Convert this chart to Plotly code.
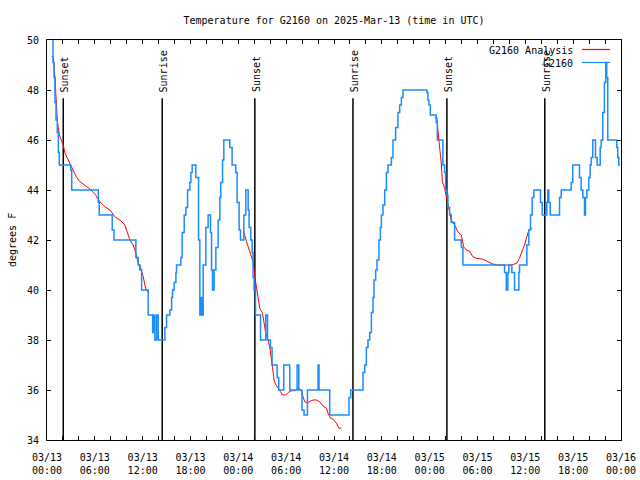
import plotly.graph_objects as go

# ---------------- data (hours since 2025-03-13 00:00 UTC) ----------------
obs_hours = [0.63, 0.75, 0.88, 1.00, 1.13, 1.29, 1.42, 1.54, 2.97, 3.10,
             6.43, 6.55, 8.18, 8.40, 11.15, 11.44, 11.65, 11.87, 12.69, 13.25,
             13.41, 13.53, 13.75, 13.95, 14.79, 15.00, 15.41, 15.63, 15.75, 15.95,
             16.17, 16.25, 16.79, 16.95, 17.21, 17.42, 17.63, 17.92, 18.05, 18.21,
             18.67, 19.01, 19.17, 19.30, 19.42, 19.59, 19.92, 20.21, 20.51, 20.64,
             20.76, 20.96, 21.18, 21.47, 21.68, 21.80, 22.02, 22.18, 22.93, 23.22,
             23.68, 23.85, 24.10, 24.27, 24.69, 24.94, 25.23, 25.35, 25.56, 25.73,
             25.85, 25.98, 26.15, 26.78, 27.44, 27.66, 28.03, 28.23, 28.86, 29.07,
             29.70, 30.45, 31.37, 31.58, 31.99, 32.24, 32.67, 34.00, 34.12, 35.46,
             37.88, 38.10, 39.64, 39.85, 40.06, 40.26, 40.48, 40.69, 40.89, 41.02,
             41.23, 41.39, 41.64, 41.82, 41.94, 42.14, 42.36, 42.57, 42.77, 43.20,
             43.40, 43.73, 44.02, 44.24, 44.45, 44.65, 47.66, 47.78, 47.91, 48.08,
             48.83, 48.96, 49.66, 49.87, 50.00, 50.16, 50.29, 50.50, 50.71, 51.13,
             51.97, 52.17, 57.39, 57.61, 57.81, 57.93, 58.31, 58.65, 59.19, 59.27,
             60.19, 60.44, 60.65, 60.86, 61.07, 61.90, 62.12, 62.69, 62.82, 62.94,
             63.12, 64.29, 64.50, 65.75, 65.95, 66.79, 67.00, 67.21, 67.42, 67.54,
             67.71, 67.96, 68.13, 68.26, 68.46, 68.80, 69.01, 69.39, 69.51, 69.71,
             69.92, 70.09, 70.21, 70.34, 71.47, 71.59, 71.72, 71.87]
obs_temp = [50.2, 49.1, 48.5, 47.5, 46.8, 46.3, 45.5, 45.0, 44.8, 44.0,
            43.5, 43.0, 42.4, 42.0, 41.3, 41.0, 40.8, 40.0, 39.0, 38.3,
            39.0, 38.0, 39.0, 38.0, 38.5, 39.0, 39.2, 39.7, 40.0, 40.3,
            40.7, 41.0, 41.3, 42.3, 43.0, 43.3, 44.0, 44.3, 44.7, 45.0,
            44.5, 42.0, 39.0, 39.7, 39.0, 41.0, 42.5, 43.0, 42.3, 40.8,
            40.0, 40.8, 41.7, 42.8, 43.7, 44.3, 45.2, 46.0, 45.7, 45.0,
            44.7, 43.5, 42.4, 42.0, 43.0, 44.0, 43.2, 42.5, 42.0, 41.5,
            40.5, 40.0, 39.0, 38.0, 39.0, 38.0, 37.7, 37.0, 36.5, 36.0,
            37.0, 36.0, 37.0, 36.0, 35.2, 35.0, 36.0, 37.0, 36.0, 35.0,
            35.7, 36.0, 36.7, 37.0, 37.7, 38.0, 38.3, 39.1, 39.7, 40.4,
            40.8, 41.2, 42.0, 42.5, 43.0, 43.4, 44.0, 44.7, 45.0, 45.3,
            46.0, 46.5, 47.1, 47.4, 47.7, 48.0, 47.9, 47.6, 47.4, 47.0,
            46.7, 46.0, 45.0, 44.7, 44.0, 43.8, 43.3, 43.0, 42.7, 42.0,
            41.7, 41.0, 40.7, 40.0, 40.7, 41.0, 40.7, 40.0, 40.7, 41.0,
            41.8, 42.4, 43.0, 43.7, 44.0, 43.5, 43.0, 43.5, 44.0, 43.5,
            43.0, 43.7, 44.0, 44.3, 45.0, 44.5, 44.0, 43.7, 43.0, 43.7,
            44.0, 44.5, 45.0, 45.3, 46.0, 45.3, 45.0, 45.7, 46.0, 47.1,
            48.3, 49.1, 48.5, 46.0, 45.7, 45.3, 45.0, 45.0]

ana1_hours = [0.59, 0.79, 1.00, 1.13, 1.29, 1.54, 1.84, 2.04, 2.26, 2.67,
              2.97, 3.30, 3.72, 4.14, 4.76, 5.39, 6.02, 6.64, 7.27, 7.89,
              8.52, 9.15, 9.77, 10.06, 10.40, 10.81, 11.15, 11.44, 11.65, 12.07,
              12.41, 12.82]
ana1_temp = [49.33, 49.33, 48.5, 47.5, 46.8, 46.2, 46.0, 45.8, 45.47, 45.2,
             45.0, 44.73, 44.5, 44.33, 44.2, 44.04, 43.83, 43.53, 43.33, 43.2,
             42.93, 42.8, 42.6, 42.33, 42.0, 41.8, 41.47, 41.07, 41.0, 40.53,
             40.0, 39.9]
ana2_hours = [24.60, 24.69, 25.03, 25.35, 25.56, 25.85, 26.07, 26.28, 26.48, 26.69,
              27.03, 27.19, 27.44, 27.73, 27.94, 28.28, 28.48, 28.66, 28.98, 29.20,
              29.54, 29.95, 30.24, 30.66, 31.08, 31.49, 31.70, 31.92, 32.12, 32.33,
              32.67, 32.96, 33.37, 33.80, 34.21, 34.62, 35.05, 35.25, 35.55, 35.88,
              36.30, 36.63, 36.93]
ana2_temp = [42.36, 42.33, 41.93, 41.6, 41.47, 41.13, 40.53, 40.13, 39.8, 39.27,
             39.07, 38.67, 38.27, 38.0, 37.73, 36.93, 36.4, 36.24, 36.07, 35.93,
             35.8, 35.8, 35.9, 35.97, 35.97, 36.07, 36.03, 35.97, 35.73, 35.53,
             35.49, 35.53, 35.6, 35.6, 35.53, 35.36, 35.27, 35.07, 34.87, 34.83,
             34.67, 34.47, 34.47]
ana3_hours = [48.62, 48.91, 49.00, 49.25, 49.37, 49.46, 49.59, 49.87, 50.09, 50.29,
              50.50, 50.71, 51.13, 51.54, 51.97, 52.26, 52.59, 53.01, 53.42, 53.85,
              54.67, 55.30, 55.93, 56.55, 58.23, 58.93, 59.27, 59.49, 59.90, 60.19,
              60.44, 60.65, 60.86]
ana3_temp = [46.9, 46.9, 46.5, 45.87, 45.33, 45.07, 44.33, 44.07, 43.73, 43.4,
             43.13, 42.8, 42.6, 42.33, 42.2, 41.73, 41.6, 41.55, 41.33, 41.27,
             41.23, 41.13, 41.04, 41.0, 41.0, 41.07, 41.27, 41.47, 41.8, 42.13,
             42.4, 42.47, 42.47]

event_hours = [2.04, 14.45, 26.07, 38.38, 50.16, 62.44]
event_labels = ["Sunset", "Sunrise", "Sunset", "Sunrise", "Sunset", "Sunrise"]
event_top = 47.67

tick_hours = [0, 6, 12, 18, 24, 30, 36, 42, 48, 54, 60, 66, 72]
tick_dates = ["03/13", "03/13", "03/13", "03/13", "03/14", "03/14", "03/14",
              "03/14", "03/15", "03/15", "03/15", "03/15", "03/16"]
tick_times = ["00:00", "06:00", "12:00", "18:00"] * 3 + ["00:00"]

y_ticks = [34, 36, 38, 40, 42, 44, 46, 48, 50]

series_names = ["G2160 Analysis", "G2160"]
RED = "#ff0000"
BLUE = "#1a8cff"
FONT = "DejaVu Sans Mono"

FIG_W, FIG_H = 640, 480
# plot box in page pixels: x 47..621, y 40..440
L, T = 47, 40
PW, PH = 574, 400
R = FIG_W - L - PW
B = FIG_H - T - PH


def px_to_paper_x(px):
    return (px - L) / PW


def py_to_paper_y(py):
    return (T + PH - py) / PH


# ---------------- figure ----------------
ana_x = ana1_hours + [None] + ana2_hours + [None] + ana3_hours
ana_y = ana1_temp + [None] + ana2_temp + [None] + ana3_temp

fig = go.Figure()
fig.add_trace(go.Scatter(x=ana_x, y=ana_y, mode="lines", name=series_names[0],
                         line=dict(color=RED, width=1), connectgaps=False,
                         showlegend=False))
fig.add_trace(go.Scatter(x=obs_hours, y=obs_temp, mode="lines", name=series_names[1],
                         line=dict(color=BLUE, width=1.5, shape="hv"),
                         showlegend=False))

for h, lab in zip(event_hours, event_labels):
    fig.add_shape(type="line", xref="x", yref="y", x0=h, x1=h, y0=34, y1=event_top,
                  line=dict(color="black", width=1.5), layer="below")
    fig.add_annotation(x=h, y=event_top, xref="x", yref="y", text=lab,
                       textangle=-90, showarrow=False, xanchor="center",
                       yanchor="bottom", yshift=4, xshift=1,
                       font=dict(family=FONT, size=10, color="black"))

# manual gnuplot-style key (text right-justified, sample on the right)
for i, (name, col) in enumerate(zip(series_names, [RED, BLUE])):
    py = 50 + i * 13
    fig.add_annotation(x=px_to_paper_x(575), y=py_to_paper_y(py), xref="paper", yref="paper",
                       text=name, showarrow=False, xanchor="right", yanchor="middle",
                       font=dict(family=FONT, size=10, color="black"))
    fig.add_shape(type="line", xref="paper", yref="paper",
                  x0=px_to_paper_x(582), x1=px_to_paper_x(610),
                  y0=py_to_paper_y(py - 0.5), y1=py_to_paper_y(py - 0.5),
                  line=dict(color=col, width=1.2))

fig.add_annotation(x=px_to_paper_x(12), y=0.5, xref="paper", yref="paper",
                   text="degrees F", textangle=-90, showarrow=False,
                   xanchor="center", yanchor="middle",
                   font=dict(family=FONT, size=10, color="black"))

fig.update_layout(
    width=FIG_W, height=FIG_H, autosize=False,
    margin=dict(l=L, r=R, t=T, b=B, pad=0, autoexpand=False),
    paper_bgcolor="white", plot_bgcolor="white",
    font=dict(family=FONT, size=10, color="black"),
    title=dict(text="Temperature for G2160 on 2025-Mar-13 (time in UTC)",
               x=0.5, xref="paper", xanchor="center",
               y=1 - 20 / FIG_H, yref="container", yanchor="middle",
               font=dict(family=FONT, size=10, color="black")),
    showlegend=False,
)
fig.update_xaxes(range=[0, 72], tickvals=tick_hours, automargin=False,
                 ticktext=[f"{d}<br>{t}" for d, t in zip(tick_dates, tick_times)],
                 ticks="inside", ticklen=4, tickcolor="black", tickwidth=1,
                 showline=True, linecolor="black", linewidth=1, mirror="ticks",
                 showgrid=False, zeroline=False, ticklabelstandoff=8,
                 minor=dict(dtick=2, tick0=0, ticks="inside", ticklen=4,
                            tickcolor="black", showgrid=False),
                 tickfont=dict(family=FONT, size=10, color="black"))
fig.update_yaxes(range=[34, 50], tickvals=y_ticks, automargin=False,
                 ticks="inside", ticklen=4, tickcolor="black", tickwidth=1,
                 showline=True, linecolor="black", linewidth=1, mirror="ticks",
                 showgrid=False, zeroline=False, ticklabelstandoff=5,
                 tickfont=dict(family=FONT, size=10, color="black"))

# remove the browser's default 8px body margin so the 640x480 figure fills the page
fig.write_html("out.html", config={"displayModeBar": False},
               post_script="document.body.style.margin='0';document.body.style.overflow='hidden';")
